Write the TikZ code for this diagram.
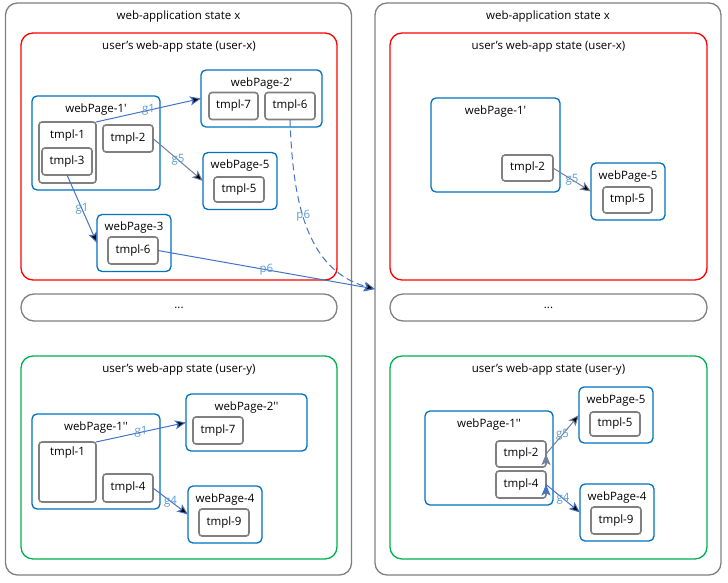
\documentclass[tikz,border=0pt]{standalone}
\usepackage{fontspec}
\setmainfont{Open Sans}
\usetikzlibrary{arrows.meta, positioning}

\definecolor{boxgray}{RGB}{128,128,128}
\definecolor{userred}{RGB}{255,0,0}
\definecolor{usergreen}{RGB}{0,176,80}
\definecolor{pageblue}{RGB}{0,112,192}
\definecolor{linkblue}{RGB}{68,114,196}
\definecolor{linkgray}{RGB}{112,128,155}
\definecolor{labelblue}{RGB}{91,155,213}

\newcommand{\pr}{\textquotesingle}

\begin{document}
\begin{tikzpicture}[
    x=1pt, y=-1pt,
    font=\fontsize{11.5}{13}\selectfont,
    box/.style={draw, rectangle, inner sep=0pt, outer sep=0pt,
    minimum width=#1},
    head/.style={label={[anchor=center, yshift=-13.5pt, inner sep=0pt]north:#1}},
    app/.style={box=346pt, draw=boxgray, line width=1.3pt, rounded corners=12pt,
    minimum height=572pt},
    user/.style={box=316pt, line width=1.3pt, rounded corners=12pt},
    dots/.style={box=316pt, draw=boxgray, line width=1.3pt, rounded corners=13pt,
    minimum height=27pt},
    page/.style={box=74pt, draw=pageblue, line width=1.3pt, rounded corners=5pt,
    minimum height=57pt},
    tmpl/.style={box=50pt, draw=boxgray, fill=white, line width=1.6pt,
    rounded corners=3pt, minimum height=27pt},
    link/.style={-{Stealth[length=11pt, width=9pt, inset=2.5pt]}, draw=linkblue,
    line width=1pt},
    glink/.style={link, draw=linkgray},
    lbl/.style={text=labelblue, inner sep=1pt}
    ]
    \useasboundingbox (0,0) rectangle (728,583);

    % left state
    \node[app, head={web-application state x}]      (appL)  at (178.5,289) {};
    \node[user, draw=userred, minimum height=247pt,
          head={user's web-app state (user-x)}]     (redL)  at (179,156.5) {};
    \node[dots]                                       (dotsL) at (179,307.5) {...};
    \node[user, draw=usergreen, minimum height=203pt,
          head={user's web-app state (user-y)}]     (grnL)  at (179,457.5) {};

    \node[page, minimum width=121pt, head={webPage-2\pr}] (wp2a) at (261.5,98.5) {};
    \node[tmpl, minimum width=49pt]                     (t7a)  at (233.5,106)  {tmpl-7};
    \node[tmpl]                                         (t6b)  at (290,106)    {tmpl-6};
    \node[page, minimum width=128pt, minimum height=94pt,
          head={webPage-1\pr}]                        (wp1a) at (96,143)     {};
    \node[tmpl, minimum width=57pt, minimum height=61pt,
          label={[anchor=center, yshift=-13.5pt, inner sep=0pt]north:tmpl-1}]
                                                      (t1a)  at (67.5,152.5) {};
    \node[tmpl]                                         (t3a)  at (67,161.5)   {tmpl-3};
    \node[tmpl]                                         (t2a)  at (128,138.5)  {tmpl-2};
    \node[page, head={webPage-5}]                       (wp5a) at (240,181)    {};
    \node[tmpl, minimum height=25pt]                    (t5a)  at (239,189.5)  {tmpl-5};
    \node[page, head={webPage-3}]                       (wp3a) at (134,243)    {};
    \node[tmpl]                                         (t6a)  at (133,250.5)  {tmpl-6};

    \node[page, minimum width=128pt, minimum height=95pt,
          head={webPage-1\pr\pr}]                     (wp1c) at (96,461.5)   {};
    \node[tmpl, minimum width=57pt, minimum height=60pt,
          label={[anchor=center, yshift=-11pt, inner sep=0pt]north:tmpl-1}]
                                                      (t1c)  at (67.5,472)   {};
    \node[tmpl, minimum height=28pt]                    (t4c)  at (128,488)    {tmpl-4};
    \node[page, minimum width=121pt, head={webPage-2\pr\pr}] (wp2c) at (246.5,422.5) {};
    \node[tmpl]                                         (t7c)  at (218,430.5)  {tmpl-7};
    \node[page, head={webPage-4}]                       (wp4c) at (225,514.5)  {};
    \node[tmpl]                                         (t9c)  at (224,522.5)  {tmpl-9};

    % right state
    \node[app, head={web-application state x}]      (appR)  at (548,289) {};
    \node[user, minimum width=317pt, draw=userred, minimum height=247pt,
          head={user's web-app state (user-x)}]     (redR)  at (548.5,156.5) {};
    \node[dots, minimum width=317pt]                 (dotsR) at (548.5,307.5) {...};
    \node[user, minimum width=317pt, draw=usergreen, minimum height=203pt,
          head={user's web-app state (user-y)}]     (grnR)  at (548.5,457.5) {};

    \node[page, minimum width=129pt, minimum height=94pt,
          head={webPage-1\pr}]                        (wp1b) at (495.5,145)  {};
    \node[tmpl, minimum width=51pt, minimum height=26pt] (t2b) at (527.5,168) {tmpl-2};
    \node[page, head={webPage-5}]                       (wp5b) at (628,191.5)  {};
    \node[tmpl, minimum width=49pt, minimum height=26pt] (t5b) at (627.5,200) {tmpl-5};

    \node[page, minimum width=128pt, minimum height=94pt,
          head={webPage-1\pr\pr}]                     (wp1d) at (489,458)    {};
    \node[tmpl, minimum height=26pt]                    (t2d)  at (521,454)    {tmpl-2};
    \node[tmpl]                                         (t4d)  at (521,484.5)  {tmpl-4};
    \node[page, minimum height=56pt, head={webPage-5}]  (wp5d) at (616,415)    {};
    \node[tmpl, minimum height=24pt]                    (t5d)  at (615,424)    {tmpl-5};
    \node[page, head={webPage-4}]                       (wp4d) at (617,512.5)  {};
    \node[tmpl]                                         (t9d)  at (616,520.5)  {tmpl-9};

    % transitions
    \path[link]
      (t1a.north east) edge node[lbl] {g1} (wp2a.west)
      (t3a.south)      edge node[lbl] {g1} (wp3a.west)
      (t6a.east)       edge node[lbl] {p6} (appR.west)
      (t6b.south)      edge[dash pattern=on 7pt off 4pt, out=-88, in=165]
                       node[lbl, pos=0.45] {p6} (appR.west)
      (t1c.north east) edge node[lbl] {g1} (wp2c.west)
      (t4c.east)       edge node[lbl] {g4} (wp4c.west)
      (t4d.east)       edge node[lbl] {g4} (wp4d.west)
    ;
    \path[glink]
      (t2a.east)       edge node[lbl] {g5} (wp5a.west)
      (t2b.east)       edge node[lbl] {g5} (wp5b.west)
      (t2d.east)       edge node[lbl] {g5} (wp5d.west)
    ;
  \end{tikzpicture}
\end{document}
